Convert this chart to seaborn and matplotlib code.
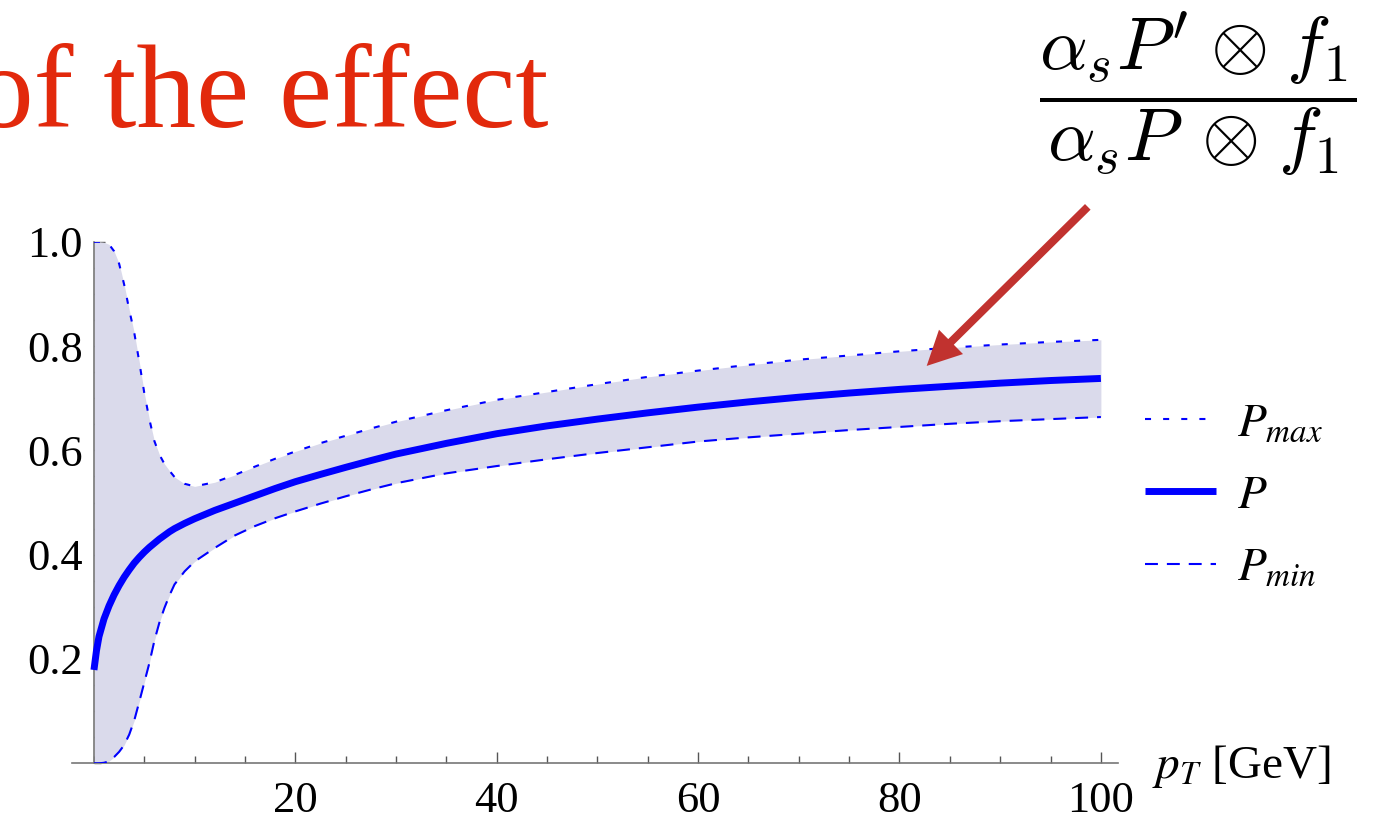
import numpy as np
import pandas as pd
import matplotlib
matplotlib.use("Agg")
import matplotlib.pyplot as plt
import seaborn as sns
from matplotlib.ticker import MultipleLocator

# ---- data ----
pt = [0, 0.25, 0.5, 1, 1.5, 2, 2.5, 3, 3.5, 4, 4.5, 5, 5.5, 6, 6.5, 7, 7.5, 8, 9,
      10, 12, 14, 16, 18, 20, 22.5, 25, 27.5, 30, 35, 40, 45, 50, 55, 60, 65,
      70, 75, 80, 85, 90, 95, 100]
p_central = [0.179, 0.216, 0.243, 0.277, 0.302, 0.323, 0.341, 0.357, 0.371,
             0.384, 0.395, 0.405, 0.414, 0.422, 0.430, 0.437, 0.444, 0.450,
             0.460, 0.469, 0.485, 0.499, 0.513, 0.527, 0.540, 0.554, 0.5675,
             0.5805, 0.593, 0.6135, 0.632, 0.647, 0.660, 0.672, 0.683, 0.693,
             0.702, 0.710, 0.717, 0.723, 0.729, 0.734, 0.738]
p_max = [1.000, 1.000, 1.000, 0.999, 0.995, 0.982, 0.958, 0.918, 0.870, 0.826,
         0.770, 0.710, 0.660, 0.618, 0.592, 0.574, 0.561, 0.549, 0.536, 0.531,
         0.539, 0.553, 0.569, 0.584, 0.598, 0.614, 0.628, 0.642, 0.655, 0.677,
         0.697, 0.712, 0.727, 0.741, 0.753, 0.764, 0.774, 0.782, 0.790, 0.797,
         0.803, 0.808, 0.812]
p_min = [0.000, 0.000, 0.000, 0.001, 0.004, 0.012, 0.022, 0.035, 0.055, 0.082,
         0.118, 0.155, 0.192, 0.235, 0.270, 0.298, 0.322, 0.343, 0.368, 0.387,
         0.413, 0.437, 0.455, 0.470, 0.483, 0.498, 0.512, 0.525, 0.537, 0.556,
         0.570, 0.583, 0.595, 0.606, 0.617, 0.625, 0.632, 0.639, 0.645, 0.651,
         0.656, 0.660, 0.664]

x_major = [20, 40, 60, 80, 100]
x_labels = ["20", "40", "60", "80", "100"]
y_major = [0.2, 0.4, 0.6, 0.8, 1.0]
y_labels = ["0.2", "0.4", "0.6", "0.8", "1.0"]
legend_labels = [r"$P_{max}$", r"$P$", r"$P_{min}$"]
title_text = "of the effect"
ratio_text = (r"$\dfrac{\alpha_s P^{\prime}\;{\otimes}\;f_1}"
              r"{\alpha_s P\;\,{\otimes}\;f_1}$")
xlabel_text = r"$p_T$ [GeV]"

# ---- style ----
sns.set_theme(style="white")
plt.rcParams["font.family"] = ["Liberation Serif", "DejaVu Serif"]
plt.rcParams["mathtext.fontset"] = "stix"
plt.rcParams["text.color"] = "black"
plt.rcParams["xtick.labelcolor"] = "black"
plt.rcParams["ytick.labelcolor"] = "black"

df = pd.DataFrame({"pt": pt, "P": p_central, "Pmax": p_max, "Pmin": p_min})

W, H = 1375, 824
fig = plt.figure(figsize=(W / 100, H / 100), dpi=100)
ax = fig.add_axes([72 / W, 60.7 / H, 1046 / W, 521.5 / H])

ax.fill_between(df["pt"], df["Pmin"], df["Pmax"], color="#dadaeb", lw=0, zorder=1)
sns.lineplot(data=df, x="pt", y="Pmax", ax=ax, color="#0000ff", lw=1.5,
             linestyle=(0, (2.9, 5.8)), label=legend_labels[0], zorder=3)
sns.lineplot(data=df, x="pt", y="P", ax=ax, color="#0000ff", lw=5,
             solid_capstyle="butt", solid_joinstyle="round",
             label=legend_labels[1], zorder=4)
sns.lineplot(data=df, x="pt", y="Pmin", ax=ax, color="#0000ff", lw=1.5,
             linestyle=(0, (6.2, 4.3)), label=legend_labels[2], zorder=3)

# ---- axes (Mathematica style) ----
for s in ["top", "right"]:
    ax.spines[s].set_visible(False)
ax.spines["left"].set_position(("data", 0))
for s in ["left", "bottom"]:
    ax.spines[s].set_color("#777777")
    ax.spines[s].set_linewidth(1.2)
ax.set_xlim(-2.18, 101.7)
ax.set_ylim(0, 1.0)
ax.set_xticks(x_major)
ax.set_xticklabels(x_labels)
ax.xaxis.set_minor_locator(MultipleLocator(5))
ax.set_yticks(y_major)
ax.set_yticklabels(y_labels)
ax.yaxis.set_minor_locator(MultipleLocator(0.05))
ax.tick_params(which="both", direction="in", color="#555555", width=1.0,
               bottom=True, left=True)
ax.tick_params(which="major", length=7.7, labelsize=32)
ax.tick_params(axis="x", which="major", pad=12.5)
ax.tick_params(axis="y", which="major", pad=8)
ax.tick_params(which="minor", length=4.7)
ax.grid(False)
ax.set_xlabel("")
ax.set_ylabel("")

ax.text(1.0325, -0.029, xlabel_text, transform=ax.transAxes, fontsize=34,
        ha="left", va="baseline", color="black")

handles, labels = ax.get_legend_handles_labels()
order = [labels.index(l) for l in legend_labels]
leg = ax.legend([handles[i] for i in order], legend_labels, loc="center left",
                bbox_to_anchor=(1.026, 0.512), frameon=False, fontsize=34,
                handlelength=1.5, handletextpad=0.45, labelspacing=0.62,
                borderpad=0, borderaxespad=0)
for t in leg.get_texts():
    t.set_color("black")

# ---- annotations ----
ax.annotate("", xy=(82.7, 0.762), xytext=(98.7, 1.067),
            arrowprops=dict(arrowstyle="simple,head_length=0.82,head_width=0.82,tail_width=0.19",
                            mutation_scale=30, color="#c1322f", lw=0,
                            shrinkA=0, shrinkB=0),
            annotation_clip=False)

fig.text(1198 / W, 1 - 94 / H, ratio_text, fontsize=54, ha="center",
         va="center", math_fontfamily="cm", color="black")
fig.text(548 / W, 1 - 127 / H, title_text, fontsize=86, color="#e2290c",
         ha="right", va="baseline")

fig.savefig("out.png", dpi=100)
